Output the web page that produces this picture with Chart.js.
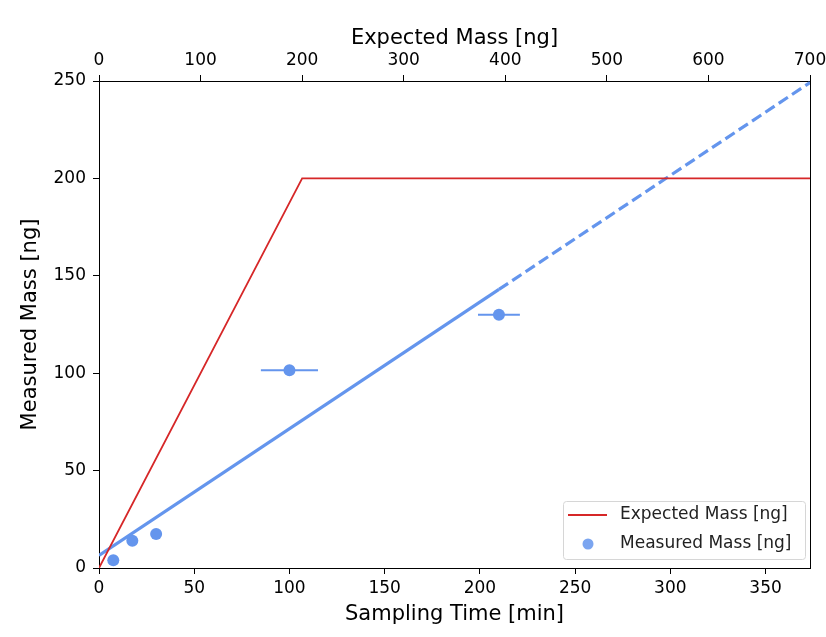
<!DOCTYPE html>
<html>
<head>
<meta charset="utf-8">
<script src="https://cdn.jsdelivr.net/npm/chart.js@4.4.1/dist/chart.umd.min.js"></script>
<style>
html,body{margin:0;padding:0;background:#fff;}
#wrap{width:826px;height:637px;}
</style>
</head>
<body>
<div id="wrap"><canvas id="c" width="826" height="637"></canvas></div>
<script>
// ---- data ----
const samplingTime = [7.5, 17.5, 30, 100, 210];
const measuredMass = [4, 14, 17.5, 101.5, 130];
const timeError = [0, 0, 0, 15, 11];

const expectedTime = [0, 106.67, 373.33];
const expectedMass = [0, 200, 200];

const fitSolidTime = [0, 210];
const fitSolidMass = [6.5, 143];
const fitDashTime = [210, 373.33];
const fitDashMass = [143, 249.2];

const xTicks = [0, 50, 100, 150, 200, 250, 300, 350];
const topTicks = [0, 100, 200, 300, 400, 500, 600, 700];
const yTicks = [0, 50, 100, 150, 200, 250];

const BLUE = '#6495ED';
const RED = '#d62728';
const FONT = "'DejaVu Sans', sans-serif";

const toXY = (xs, ys) => xs.map((x, i) => ({x: x, y: ys[i]}));

const datasets = [
  {
    label: 'Expected Mass [ng]', type: 'line', data: toXY(expectedTime, expectedMass),
    borderColor: RED, borderWidth: 1.8, pointRadius: 0, fill: false, tension: 0, order: 3, inLegend: true, legendType: 'line'
  },
  {
    label: 'fit', type: 'line', data: toXY(fitSolidTime, fitSolidMass),
    borderColor: BLUE, borderWidth: 3.2, pointRadius: 0, fill: false, order: 4
  },
  {
    label: 'fit ext', type: 'line', data: toXY(fitDashTime, fitDashMass),
    borderColor: BLUE, borderWidth: 3.2, borderDash: [11, 5], pointRadius: 0, fill: false, order: 4
  }
];
// error bars
samplingTime.forEach((t, i) => {
  if (timeError[i] > 0) {
    datasets.push({
      label: 'err', type: 'line',
      data: [{x: t - timeError[i], y: measuredMass[i]}, {x: t + timeError[i], y: measuredMass[i]}],
      borderColor: BLUE, borderWidth: 2, pointRadius: 0, fill: false, order: 2
    });
  }
});
datasets.push({
  label: 'Measured Mass [ng]', type: 'scatter', data: toXY(samplingTime, measuredMass),
  backgroundColor: BLUE, borderColor: BLUE, borderWidth: 0, pointRadius: 6, order: 1, inLegend: true, legendType: 'dot'
});

const legendPlugin = {
  id: 'mplLegend',
  afterDraw(chart) {
    const ctx = chart.ctx, ca = chart.chartArea;
    const items = chart.data.datasets.filter(d => d.inLegend);
    const w = 242, h = 58;
    const x0 = Math.round(ca.right - w - 5), y0 = Math.round(ca.bottom - h - 9);
    ctx.save();
    ctx.fillStyle = 'rgba(255,255,255,0.85)';
    ctx.strokeStyle = '#d6d6d6';
    ctx.lineWidth = 1;
    ctx.beginPath();
    if (ctx.roundRect) ctx.roundRect(x0 + 0.5, y0 + 0.5, w, h, 3); else ctx.rect(x0 + 0.5, y0 + 0.5, w, h);
    ctx.fill(); ctx.stroke();
    ctx.font = '17px ' + FONT;
    ctx.textBaseline = 'middle';
    items.forEach((d, i) => {
      const cy = y0 + 14 + i * 29;
      if (d.legendType === 'line') {
        ctx.strokeStyle = d.borderColor; ctx.lineWidth = 2;
        ctx.beginPath(); ctx.moveTo(x0 + 5, cy); ctx.lineTo(x0 + 44, cy); ctx.stroke();
      } else {
        ctx.fillStyle = 'rgba(100,149,237,0.85)';
        ctx.beginPath(); ctx.arc(x0 + 25, cy, 5.5, 0, Math.PI * 2); ctx.fill();
      }
      ctx.fillStyle = '#222';
      ctx.fillText(d.label, x0 + 57, cy);
    });
    ctx.restore();
  }
};

const tickFont = {family: FONT, size: 17};
const titleFont = {family: FONT, size: 21};
const axisGrid = {drawOnChartArea: false, drawTicks: true, tickLength: 6, color: '#000', tickWidth: 1};
const axisBorder = {display: true, color: '#000', width: 1};
const fixH = h => s => { s.height = h; s.paddingLeft = 0; s.paddingRight = 0; };

new Chart(document.getElementById('c'), {
  type: 'scatter',
  data: {datasets: datasets},
  options: {
    responsive: false,
    animation: false,
    devicePixelRatio: 1,
    layout: {padding: 0},
    plugins: {legend: {display: false}, tooltip: {enabled: false}},
    scales: {
      x: {
        type: 'linear', position: 'bottom', min: 0, max: 373.33,
        afterBuildTicks: s => { s.ticks = xTicks.map(v => ({value: v})); },
        afterFit: fixH(69),
        ticks: {font: tickFont, color: '#000', padding: 4, maxRotation: 0, autoSkip: false},
        grid: axisGrid, border: axisBorder,
        title: {display: true, text: 'Sampling Time [min]', font: titleFont, color: '#000', padding: {top: 0, bottom: 10}}
      },
      xTop: {
        type: 'linear', position: 'top', min: 0, max: 700, display: true,
        afterBuildTicks: s => { s.ticks = topTicks.map(v => ({value: v})); },
        afterFit: fixH(81),
        ticks: {font: tickFont, color: '#000', padding: 4, maxRotation: 0, autoSkip: false},
        grid: axisGrid, border: axisBorder,
        title: {display: true, text: 'Expected Mass [ng]', font: titleFont, color: '#000', padding: {top: 26, bottom: 0}}
      },
      y: {
        type: 'linear', position: 'left', min: 0, max: 250,
        afterBuildTicks: s => { s.ticks = yTicks.map(v => ({value: v})); },
        afterFit: s => { s.width = 99; },
        ticks: {font: tickFont, color: '#000', padding: 7, autoSkip: false},
        grid: axisGrid, border: axisBorder,
        title: {display: true, text: 'Measured Mass [ng]', font: titleFont, color: '#000', padding: {top: 18, bottom: 0}}
      },
      yRight: {
        type: 'linear', position: 'right', min: 0, max: 250, display: true,
        afterFit: s => { s.width = 16; },
        ticks: {display: false},
        grid: {drawOnChartArea: false, drawTicks: false},
        border: axisBorder
      }
    }
  },
  plugins: [legendPlugin]
});
</script>
</body>
</html>
